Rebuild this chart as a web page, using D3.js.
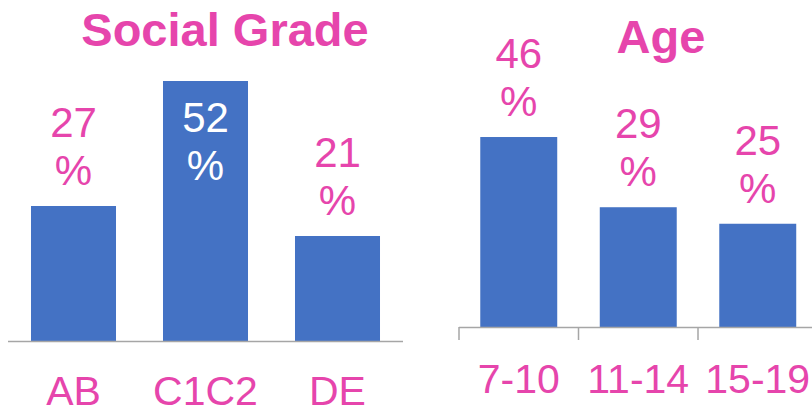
<!DOCTYPE html>
<html>
<head>
<meta charset="utf-8">
<script src="https://cdn.jsdelivr.net/npm/d3@7"></script>
<style>
  body { margin: 0; background: #fff; }
  svg { display: block; font-family: Arial, "Liberation Sans", sans-serif; }
</style>
</head>
<body>
<svg id="chart" width="812" height="410"></svg>
<script>
// data
const gradeCats = ["AB", "C1C2", "DE"];
const gradeVals = [27, 52, 21];
const ageCats = ["7-10", "11-14", "15-19"];
const ageVals = [46, 29, 25];

const pink = "#E645AC";
const blue = "#4472C4";
const svg = d3.select("#chart");

const drawPanel = (opts) => {
  const g = svg.append("g");
  const x = d3.scaleBand().domain(opts.cats).range(opts.xRange).paddingInner(0.356).paddingOuter(0.178);
  const y = d3.scaleLinear().domain([0, 60]).range([opts.base, opts.base - 60 * opts.pxPer]);
  const data = opts.cats.map((c, i) => ({ cat: c, val: opts.vals[i] }));

  // title
  g.append("text")
    .attr("x", opts.titleX)
    .attr("y", opts.titleY)
    .attr("text-anchor", "middle")
    .attr("font-size", 47)
    .attr("font-weight", "bold")
    .attr("fill", pink)
    .text(opts.title);

  // bars
  g.selectAll(".bar")
    .data(data)
    .enter().append("rect")
    .attr("class", "bar")
    .attr("x", d => x(d.cat))
    .attr("y", d => y(d.val))
    .attr("width", x.bandwidth())
    .attr("height", d => y(0) - y(d.val))
    .attr("fill", blue);

  // value labels, two lines: number then %
  data.forEach(d => {
    const top = y(d.val);
    const inside = top < 100;
    const pctBase = inside ? top + 99 : top - 21;
    const cx = x(d.cat) + x.bandwidth() / 2;
    const col = inside ? "#fff" : pink;
    g.append("text")
      .attr("x", cx).attr("y", pctBase - 48)
      .attr("text-anchor", "middle").attr("font-size", 42).attr("fill", col)
      .text(d.val);
    g.append("text")
      .attr("x", cx).attr("y", pctBase)
      .attr("text-anchor", "middle").attr("font-size", 42).attr("fill", col)
      .text("%");
  });

  // baseline
  g.append("line")
    .attr("x1", opts.lineX[0]).attr("x2", opts.lineX[1])
    .attr("y1", opts.base + 0.5).attr("y2", opts.base + 0.5)
    .attr("stroke", "#A6A6A6").attr("stroke-width", 1.5);

  // tick marks at band edges
  if (opts.ticks) {
    const step = x.step();
    opts.cats.forEach((c, i) => {
      const tx = opts.xRange[0] + i * step;
      g.append("line")
        .attr("x1", tx).attr("x2", tx)
        .attr("y1", opts.base).attr("y2", opts.base + 13)
        .attr("stroke", "#A6A6A6").attr("stroke-width", 1.5);
    });
  }

  // category labels
  g.selectAll(".cat")
    .data(data)
    .enter().append("text")
    .attr("class", "cat")
    .attr("x", d => x(d.cat) + x.bandwidth() / 2)
    .attr("y", opts.labelY)
    .attr("text-anchor", "middle")
    .attr("font-size", 41)
    .attr("fill", pink)
    .text(d => d.cat);
};

drawPanel({
  cats: gradeCats, vals: gradeVals,
  xRange: [7.5, 403.5], base: 341, pxPer: 5,
  title: "Social Grade", titleX: 225, titleY: 46,
  lineX: [8, 403], ticks: false, labelY: 405
});

drawPanel({
  cats: ageCats, vals: ageVals,
  xRange: [459, 817.5], base: 327, pxPer: 4.13,
  title: "Age", titleX: 661, titleY: 53,
  lineX: [459, 812], ticks: true, labelY: 393
});
</script>
</body>
</html>
